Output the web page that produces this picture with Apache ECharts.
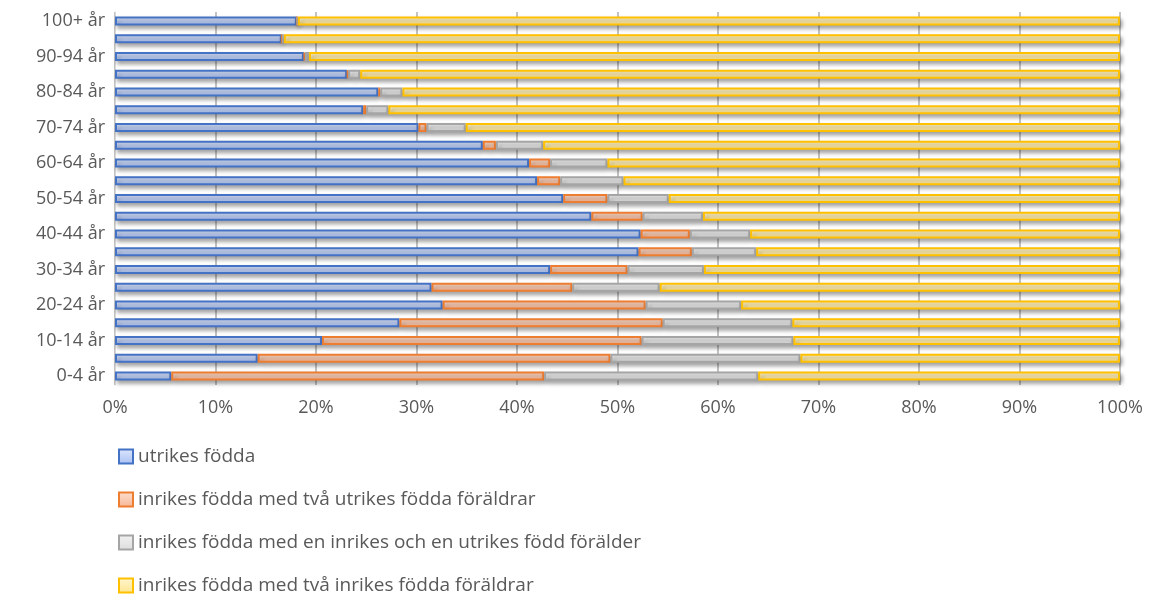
<!DOCTYPE html>
<html>
<head>
<meta charset="utf-8">
<script src="https://cdn.jsdelivr.net/npm/echarts@6/dist/echarts.min.js"></script>
<style>
  html, body { margin: 0; padding: 0; background: #fff; }
  #chart { width: 1149px; height: 596px; }
</style>
</head>
<body>
<div id="chart"></div>
<script>
  // åldersgrupper, nerifrån och upp
  const ageGroups = ['0-4 år', '5-9 år', '10-14 år', '15-19 år', '20-24 år', '25-29 år', '30-34 år',
    '35-39 år', '40-44 år', '45-49 år', '50-54 år', '55-59 år', '60-64 år', '65-69 år', '70-74 år',
    '75-79 år', '80-84 år', '85-89 år', '90-94 år', '95-99 år', '100+ år']

  const utrikesFodda = [5.6, 14.2, 20.6, 28.3, 32.6, 31.5, 43.3, 52.1, 52.3, 47.4, 44.6, 42.0, 41.2, 36.6, 30.2, 24.7, 26.2, 23.1, 18.8, 16.6, 18.1]
  const tvaUtrikesForaldrar = [37.1, 35.1, 31.8, 26.2, 20.2, 14.0, 7.7, 5.3, 4.9, 5.1, 4.4, 2.3, 2.1, 1.3, 0.8, 0.3, 0.2, 0.1, 0.1, 0.0, 0.0]
  const enUtrikesForalder = [21.3, 18.9, 15.1, 12.9, 9.5, 8.7, 7.6, 6.4, 6.0, 6.0, 6.1, 6.3, 5.7, 4.7, 3.9, 2.2, 2.2, 1.2, 0.4, 0.2, 0.1]
  const tvaInrikesForaldrar = [36.0, 31.8, 32.5, 32.6, 37.7, 45.8, 41.4, 36.2, 36.8, 41.5, 44.9, 49.4, 51.0, 57.4, 65.1, 72.8, 71.4, 75.6, 80.7, 83.2, 81.8]

  const seriesNames = [
    'utrikes födda',
    'inrikes födda med två utrikes födda föräldrar',
    'inrikes födda med en inrikes och en utrikes född förälder',
    'inrikes födda med två inrikes födda föräldrar'
  ]

  const textColor = '#595959'
  const fontFamily = '"Open Sans", Lato, sans-serif'

  function fill(top, bottom) {
    return new echarts.graphic.LinearGradient(0, 0, 0, 1, [
      { offset: 0, color: top },
      { offset: 1, color: bottom }
    ])
  }

  function barSeries(name, data, top, bottom, border) {
    return {
      name: name,
      type: 'bar',
      stack: 'total',
      barWidth: 9,
      data: data,
      itemStyle: {
        color: fill(top, bottom),
        borderColor: border,
        borderWidth: 2,
        shadowBlur: 4,
        shadowOffsetX: 2,
        shadowOffsetY: 3,
        shadowColor: 'rgba(0,0,0,0.35)'
      },
      emphasis: { disabled: true }
    }
  }

  const myChart = echarts.init(document.getElementById('chart'))

  myChart.setOption({
    animation: false,
    textStyle: { fontFamily: fontFamily },
    grid: {
      left: 115,
      right: 29,
      top: 12,
      bottom: 211
    },
    legend: {
      orient: 'vertical',
      left: 113,
      top: 442,
      height: 160,
      itemWidth: 14,
      itemHeight: 14,
      itemGap: 24,
      icon: 'rect',
      textStyle: {
        color: textColor,
        fontSize: 19,
        fontFamily: fontFamily
      },
      data: seriesNames
    },
    xAxis: {
      type: 'value',
      min: 0,
      max: 100,
      interval: 10,
      axisLine: { show: false },
      axisTick: { show: false },
      axisLabel: {
        color: textColor,
        fontSize: 18,
        margin: 14,
        formatter: '{value}%'
      },
      splitLine: {
        lineStyle: { color: '#c4c4c4', width: 2 }
      }
    },
    yAxis: {
      type: 'category',
      data: ageGroups,
      axisLine: { lineStyle: { color: '#d9d9d9', width: 1 } },
      axisTick: { show: false },
      axisLabel: {
        color: textColor,
        fontSize: 18,
        margin: 10,
        interval: 1
      }
    },
    series: [
      barSeries(seriesNames[0], utrikesFodda, '#dde6fd', '#a9c0f2', '#4472c4'),
      barSeries(seriesNames[1], tvaUtrikesForaldrar, '#fde0d0', '#f7b594', '#ed7d31'),
      barSeries(seriesNames[2], enUtrikesForalder, '#f2f2f2', '#dcdcdc', '#a5a5a5'),
      barSeries(seriesNames[3], tvaInrikesForaldrar, '#fff6cf', '#ffe58f', '#ffc000')
    ]
  })
</script>
</body>
</html>
